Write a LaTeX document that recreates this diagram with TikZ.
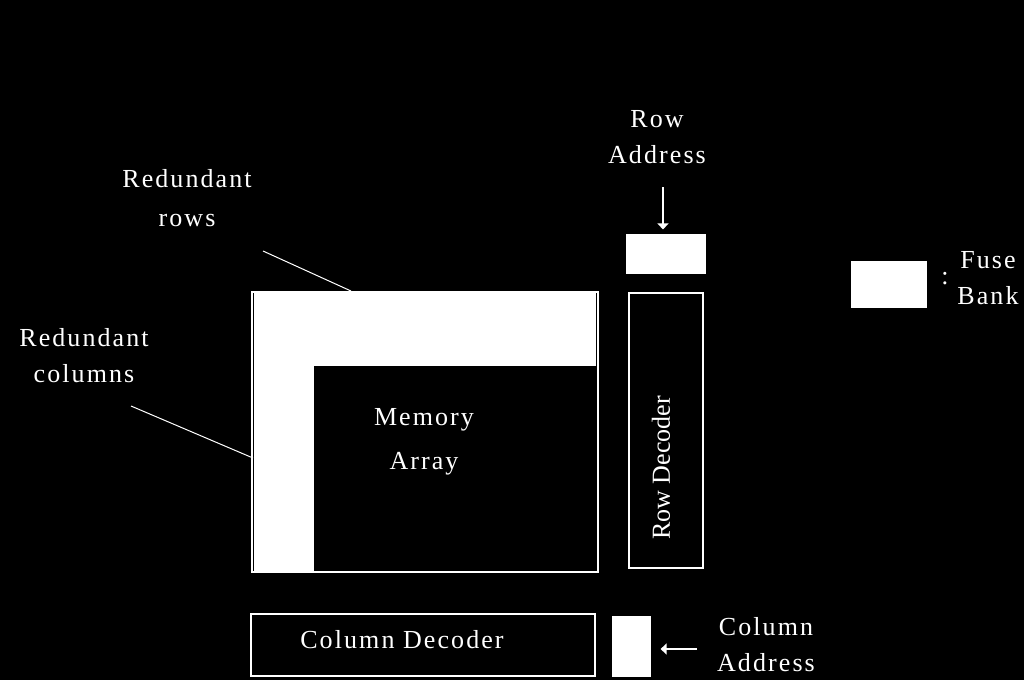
\documentclass[tikz,border=0pt]{standalone}
\usepackage{fontspec}
\setmainfont{Liberation Serif}[LetterSpace=8]
\newfontfamily\tightfont{Liberation Serif}
\usetikzlibrary{arrows.meta, positioning}
\tikzset{
  every picture/.style={line width=1.2pt},
  txt/.style={text=white, align=center, inner sep=0pt, font=\fontsize{26}{36}\selectfont},
  block/.style={draw=white, inner sep=0pt},
  fuse/.style={fill=white, draw=white, inner sep=0pt},
  arrow/.style={-{Triangle[length=6pt, width=11pt]}, draw=white, line width=1.4pt},
  leader/.style={draw=white, line width=1pt},
}

\begin{document}
\begin{tikzpicture}[x=1pt, y=-1pt]
  \fill[black] (0,0) rectangle (1024,680);
  \useasboundingbox (0,0) rectangle (1024,680);
  % memory array with redundant rows and columns
  \node[block, minimum width=346pt, minimum height=280pt] (array) at (425,432) {};
  \fill[white] (254,292) rectangle (596,366);
  \fill[white] (254,292) rectangle (314,572);
  \node[txt] (arraytext) at (424,442) {Memory\\[8pt]Array};
  % row side
  \node[block, minimum width=74pt, minimum height=275pt] (rowdec) at (666,430.5) {};
  \node[txt, rotate=90, font=\tightfont\fontsize{26}{36}\selectfont] (rowdectext) at (661,468) {Row Decoder};
  \node[fuse, minimum width=78pt, minimum height=38pt] (rowfuse) at (666,254) {};
  \node[txt] (rowaddr) at (657,137) {Row\\Address};
  \coordinate (rowin) at (663,187);
  \draw[arrow, shorten >=5pt] (rowin) -- (rowfuse.north -| rowin);
  % column side
  \node[block, minimum width=344pt, minimum height=62pt] (coldec) at (423,645) {};
  \node[txt] (coldectext) at (402,640) {Column Decoder};
  \node[fuse, minimum width=37pt, minimum height=59pt] (colfuse) at (631.5,646.5) {};
  \node[txt] (coladdr) at (766,645) {Column\\Address};
  \coordinate (colin) at (697,649);
  \draw[arrow, shorten >=10pt] (colin) -- (colfuse.east |- colin);
  % redundancy labels
  \node[txt] (redrows) at (187,198) {Redundant\\[3pt]rows};
  \node[txt] (redcols) at (84,356) {Redundant\\columns};
  \coordinate (rowsend) at (263,251);
  \coordinate (colsend) at (131,406);
  \draw[leader] (rowsend) -- (351,291);
  \draw[leader] (colsend) -- (253,458);
  % legend
  \node[fuse, minimum width=74pt, minimum height=45pt] (legend) at (889,284.5) {};
  \node[txt] (colon) at (945,279) {:};
  \node[txt] (legendtext) at (988,278) {Fuse\\Bank};
\end{tikzpicture}
\end{document}
